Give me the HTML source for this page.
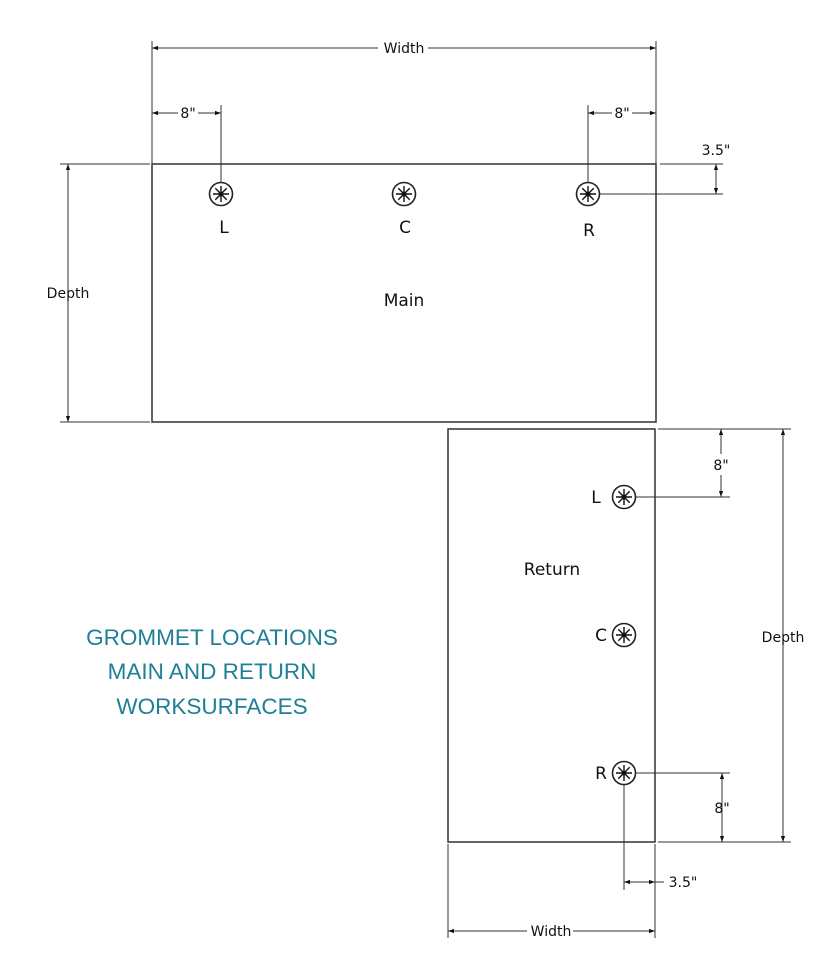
<!DOCTYPE html>
<html><head><meta charset="utf-8"><style>
html,body{margin:0;padding:0;background:#fff;}
svg{display:block;}
text{font-family:"DejaVu Sans","Liberation Sans",sans-serif;fill:#111;}
</style></head><body>
<svg width="828" height="971" viewBox="0 0 828 971" xmlns="http://www.w3.org/2000/svg">
<defs>
<marker id="a" viewBox="0 0 10 10" refX="10" refY="5" markerWidth="6" markerHeight="6" orient="auto-start-reverse" markerUnits="userSpaceOnUse"><path d="M0,1.5 L10,5 L0,8.5 z" fill="#111"/></marker>
<g id="g"><circle r="11.5" fill="#fff" stroke="#222" stroke-width="1.6"/>
<path d="M-8,0H8M0,-8V8M-5.7,-5.7L5.7,5.7M-5.7,5.7L5.7,-5.7" stroke="#111" stroke-width="1.4"/><circle r="2.4" fill="#111"/></g>
</defs>
<g fill="none" stroke="#222" stroke-width="1.4">
<rect x="152" y="164" width="504" height="258"/>
<rect x="448" y="429" width="207" height="413"/>
</g>
<g fill="none" stroke="#333" stroke-width="1">
<line x1="152" y1="41" x2="152" y2="164"/><line x1="656" y1="41" x2="656" y2="164"/>
<line x1="152" y1="48" x2="378" y2="48" marker-start="url(#a)"/>
<line x1="428" y1="48" x2="656" y2="48" marker-end="url(#a)"/>
<line x1="221" y1="105" x2="221" y2="182"/>
<line x1="152" y1="113" x2="178" y2="113" marker-start="url(#a)"/>
<line x1="198" y1="113" x2="221" y2="113" marker-end="url(#a)"/>
<line x1="588" y1="105" x2="588" y2="182"/>
<line x1="588" y1="113" x2="612" y2="113" marker-start="url(#a)"/>
<line x1="632" y1="113" x2="656" y2="113" marker-end="url(#a)"/>
<line x1="660" y1="164" x2="723" y2="164"/>
<line x1="600" y1="194" x2="723" y2="194"/>
<line x1="716" y1="164" x2="716" y2="194" marker-start="url(#a)" marker-end="url(#a)"/>
<line x1="60" y1="164" x2="150" y2="164"/><line x1="60" y1="422" x2="150" y2="422"/>
<line x1="68" y1="164" x2="68" y2="422" marker-start="url(#a)" marker-end="url(#a)"/>
<line x1="658" y1="429" x2="791" y2="429"/>
<line x1="636" y1="497" x2="730" y2="497"/>
<line x1="721" y1="429" x2="721" y2="454" marker-start="url(#a)"/>
<line x1="721" y1="475" x2="721" y2="497" marker-end="url(#a)"/>
<line x1="783" y1="429" x2="783" y2="842" marker-start="url(#a)" marker-end="url(#a)"/>
<line x1="636" y1="773" x2="730" y2="773"/>
<line x1="658" y1="842" x2="791" y2="842"/>
<line x1="722" y1="773" x2="722" y2="842" marker-start="url(#a)" marker-end="url(#a)"/>
<line x1="624" y1="785" x2="624" y2="890"/>
<line x1="655" y1="844" x2="655" y2="938"/>
<line x1="448" y1="844" x2="448" y2="938"/>
<line x1="624" y1="882" x2="655" y2="882" marker-start="url(#a)" marker-end="url(#a)"/>
<line x1="655" y1="882" x2="664" y2="882"/>
<line x1="448" y1="931" x2="527" y2="931" marker-start="url(#a)"/>
<line x1="573" y1="931" x2="655" y2="931" marker-end="url(#a)"/>
</g>
<use href="#g" x="221" y="194"/><use href="#g" x="404" y="194"/><use href="#g" x="588" y="194"/>
<use href="#g" x="624" y="497"/><use href="#g" x="624" y="635"/><use href="#g" x="624" y="773"/>
<g font-size="14" text-anchor="middle">
<text x="404" y="53">Width</text>
<text x="188" y="118">8"</text>
<text x="622" y="118">8"</text>
<text x="716" y="155">3.5"</text>
<text x="68" y="298">Depth</text>
<text x="721" y="470">8"</text>
<text x="783" y="642">Depth</text>
<text x="722" y="813">8"</text>
<text x="683" y="887">3.5"</text>
<text x="551" y="936">Width</text>
</g>
<g font-size="17" text-anchor="middle">
<text x="224" y="233">L</text><text x="405" y="233">C</text><text x="589" y="236">R</text>
<text x="404" y="306">Main</text>
<text x="552" y="575">Return</text>
<text x="596" y="503">L</text><text x="601" y="641">C</text><text x="601" y="779">R</text>
</g>
<g text-anchor="middle">
<text x="212" y="645" style="fill:#1f7f96;font-family:'Liberation Sans',sans-serif;font-size:22.5px">GROMMET LOCATIONS</text>
<text x="212" y="679" style="fill:#1f7f96;font-family:'Liberation Sans',sans-serif;font-size:22.5px">MAIN AND RETURN</text>
<text x="212" y="714" style="fill:#1f7f96;font-family:'Liberation Sans',sans-serif;font-size:22.5px">WORKSURFACES</text>
</g>
</svg>
</body></html>
